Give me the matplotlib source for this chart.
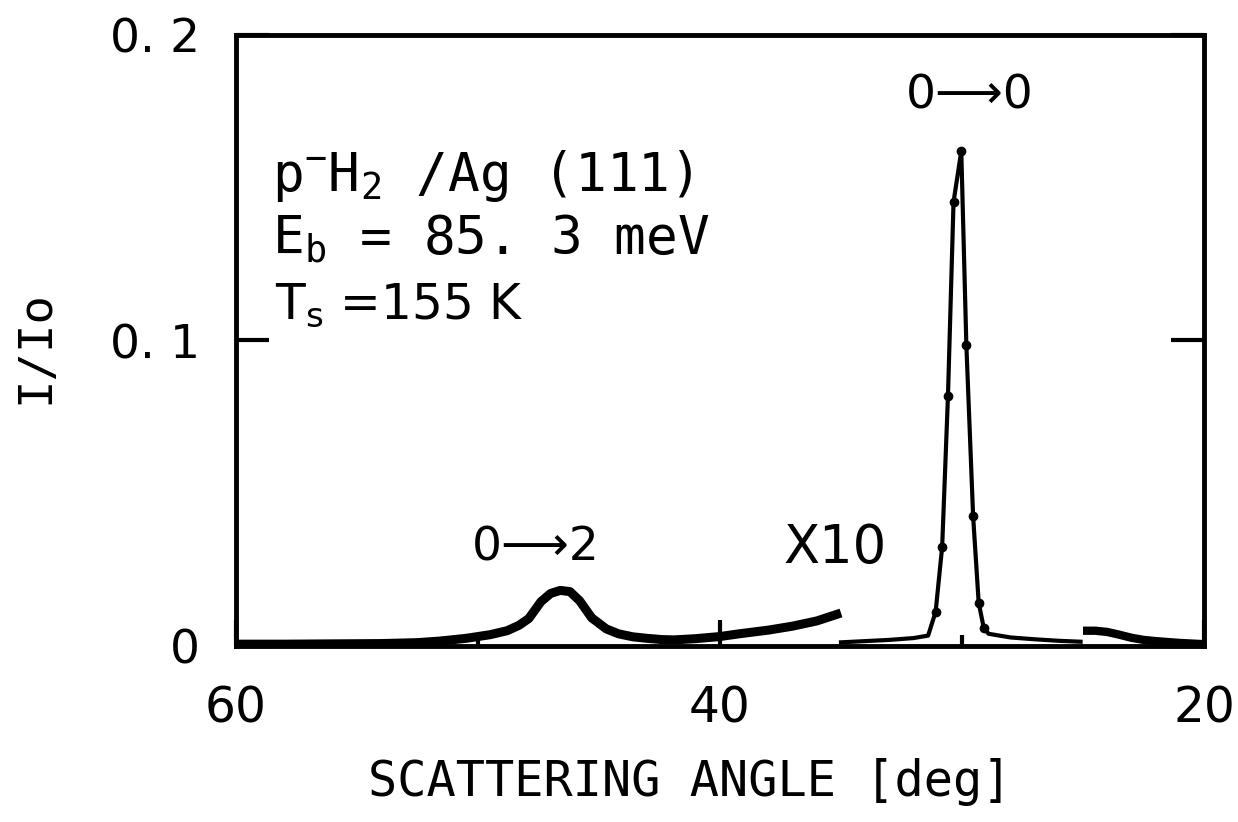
import matplotlib
matplotlib.use('Agg')
import matplotlib.pyplot as plt
from matplotlib.ticker import MultipleLocator

plt.rcParams['font.family'] = ['DejaVu Sans']
plt.rcParams['mathtext.default'] = 'regular'

# inelastic 0->2 region (shown x10)
angle_x10 = [60, 58, 56, 54, 52.5, 51.6, 50.5, 49.5, 48.8, 48.3, 47.9, 47.4, 47.0, 46.6,
             46.2, 45.8, 45.3, 44.7, 44.2, 43.6, 43.0, 42.4, 41.9, 41.0, 40.0, 39.2,
             38.0, 37.0, 36.0, 35.0]
int_x10 = [0.0006, 0.0006, 0.0007, 0.0008, 0.0011, 0.0016, 0.0025, 0.0037, 0.0050, 0.0068,
           0.0090, 0.0145, 0.0172, 0.0182, 0.0178, 0.0148, 0.0092, 0.0056, 0.0040, 0.0030,
           0.0025, 0.0021, 0.0020, 0.0024, 0.0031, 0.0040, 0.0052, 0.0065, 0.0082, 0.0108]

# specular 0->0 scan
angle_spec = [35.0, 34.0, 33.0, 32.0, 31.4, 31.09, 30.82, 30.58, 30.35, 30.03, 29.82,
              29.54, 29.31, 29.10, 28.9, 28.0, 27.0, 26.0, 25.1]
int_spec = [0.0012, 0.0016, 0.0020, 0.0026, 0.0034, 0.0112, 0.0324, 0.0818, 0.1453, 0.1620,
            0.0985, 0.0424, 0.0141, 0.0059, 0.0040, 0.0028, 0.0022, 0.0017, 0.0014]
dot_angle = [31.09, 30.82, 30.58, 30.35, 30.03, 29.82, 29.54, 29.31, 29.10]
dot_int = [0.0112, 0.0324, 0.0818, 0.1453, 0.1620, 0.0985, 0.0424, 0.0141, 0.0059]

# tail beyond 25 deg
angle_tail = [25.0, 24.5, 24.0, 23.5, 23.0, 22.5, 22.0, 21.0, 20.0]
int_tail = [0.0050, 0.0050, 0.0046, 0.0037, 0.0027, 0.0020, 0.0016, 0.0010, 0.0006]

fig = plt.figure(figsize=(12.38, 8.22), dpi=100)
ax = fig.add_axes([236/1238, 1-646/822, (1204-236)/1238, (646-35)/822])

ax.plot(angle_x10, int_x10, color='black', lw=6.5, solid_capstyle='butt')
ax.plot(angle_spec, int_spec, color='black', lw=3)
ax.plot(dot_angle, dot_int, 'o', color='black', ms=6)
ax.plot(angle_tail, int_tail, color='black', lw=6, solid_capstyle='butt')

ax.set_xlim(60, 20)
ax.set_ylim(0, 0.2)

ax.set_xticks([60, 40, 20])
ax.set_xticklabels(['60', '40', '20'])
ax.xaxis.set_minor_locator(MultipleLocator(10))
ax.set_yticks([0, 0.1, 0.2])
ax.set_yticklabels(['0', '0. 1', '0. 2'])

ax.tick_params(axis='x', which='major', direction='in', length=19, width=3,
               labelsize=35, pad=28)
ax.tick_params(axis='x', which='minor', direction='in', length=8, width=3)
ax.tick_params(axis='y', direction='in', length=24, width=3, labelsize=34, pad=26,
               right=True)
for s in ax.spines.values():
    s.set_linewidth(3.5)

ax.set_xlabel('SCATTERING ANGLE [deg]', fontsize=35, family='DejaVu Sans Mono', va='center')
ax.xaxis.set_label_coords(0.469, -0.2226)
ax.set_ylabel('I/Io', fontsize=34, family='DejaVu Sans Mono', va='center')
ax.yaxis.set_label_coords(-0.207, 0.489)

ax.text(58.5, 0.149, 'p$^{-}$H$_2$ /Ag (111)', fontsize=38, va='baseline',
        family='DejaVu Sans Mono')
ax.text(58.5, 0.128, 'E$_b$ = 85. 3 meV', fontsize=38, va='baseline',
        family='DejaVu Sans Mono')
ax.text(58.4, 0.107, 'T$_s$ =155 K', fontsize=35, va='baseline')

ax.text(29.67, 0.180, '0\u27f60', fontsize=34, ha='center', va='center')
ax.text(47.6, 0.032, '0\u27f62', fontsize=34, ha='center', va='center')
ax.text(35.25, 0.032, 'X10', fontsize=38, ha='center', va='center')

fig.savefig('out.png', dpi=100)
